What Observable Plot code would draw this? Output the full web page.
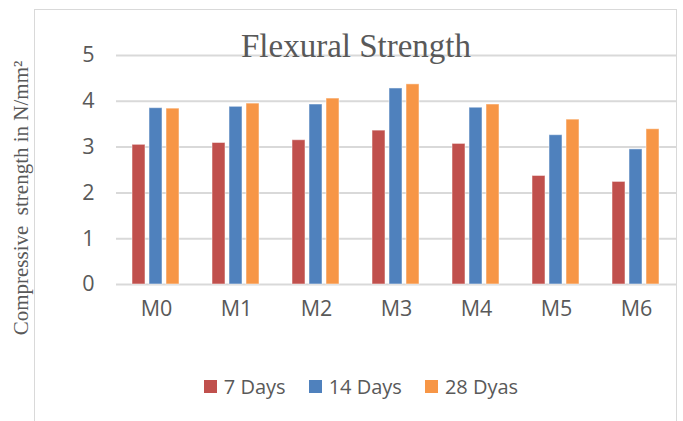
<!DOCTYPE html>
<html>
<head>
<meta charset="utf-8">
<script src="https://cdn.jsdelivr.net/npm/d3@7"></script>
<script src="https://cdn.jsdelivr.net/npm/@observablehq/plot@0.6"></script>
<style>
  html, body { margin: 0; padding: 0; background: #fff; }
  #wrap { position: relative; width: 683px; height: 421px; overflow: hidden; background: #fff; }
  #frame { position: absolute; left: 34px; top: 9px; width: 643px; height: 430px; border: 1px solid #d9d9d9; box-sizing: border-box; }
  #chart { position: absolute; left: 0; top: 0; }
  #chart svg text { font-size: 21.5px !important; fill: #595959; }
  #title { position: absolute; left: 34px; width: 644px; top: 30px; text-align: center;
           font-family: "Liberation Serif", serif; font-size: 33px; color: #595959; line-height: 1; }
  #ytitle { position: absolute; left: 21px; top: 198px; transform: translate(-50%, -50%) rotate(-90deg);
            font-family: "Liberation Serif", serif; font-size: 21px; color: #595959; white-space: pre; line-height: 1; }
  #legend { position: absolute; left: 34px; width: 654px; top: 370px; display: flex; justify-content: center; }
  .lg-swatch { margin-right: 23px !important; }
  .lg-swatch:last-child { margin-right: 0 !important; }
  .lg-swatch > svg { margin-right: 7px !important; }
</style>
</head>
<body>
<div id="wrap">
  <div id="frame"></div>
  <div id="chart"></div>
  <div id="title">Flexural Strength</div>
  <div id="ytitle">Compressive  strength in N/mm²</div>
  <div id="legend"></div>
</div>
<script>
const categories = ["M0", "M1", "M2", "M3", "M4", "M5", "M6"];
const seriesNames = ["7 Days", "14 Days", "28 Dyas"];
const days7  = [3.05, 3.09, 3.15, 3.36, 3.07, 2.37, 2.24];
const days14 = [3.85, 3.88, 3.93, 4.28, 3.86, 3.26, 2.95];
const days28 = [3.84, 3.95, 4.06, 4.37, 3.93, 3.60, 3.39];
const yTicks = [0, 1, 2, 3, 4, 5];
const colors = ["#C0504D", "#4F81BD", "#F79646"];

const seriesValues = [days7, days14, days28];
const rows = categories.flatMap((c, i) =>
  seriesNames.map((s, j) => ({category: c, series: s, value: seriesValues[j][i]})));

const chart = Plot.plot({
  width: 683,
  height: 340,
  marginTop: 55,
  marginBottom: 56,
  marginLeft: 115,
  marginRight: 6,
  style: {fontFamily: "'Open Sans', sans-serif", fontSize: "21px", color: "#595959", background: "transparent", overflow: "visible"},
  facet: {data: rows, x: "category", label: null},
  fx: {domain: categories, paddingInner: 0, paddingOuter: 0, label: null, tickSize: 0, tickPadding: 16},
  x: {domain: seriesNames, axis: null, paddingInner: 0.222, paddingOuter: 0.84},
  y: {domain: [0, 5], ticks: yTicks, tickFormat: d => String(d), tickSize: 0, tickPadding: 22, label: null},
  color: {domain: seriesNames, range: colors},
  marks: [
    Plot.ruleY(yTicks, {stroke: "#d9d9d9", strokeWidth: 2}),
    Plot.barY(rows, {x: "series", y: "value", fill: "series", stroke: "#ffffff", strokeOpacity: 0.5, strokeWidth: 1})
  ]
});
document.getElementById("chart").appendChild(chart);

const legend = Plot.legend({
  color: {domain: seriesNames, range: colors},
  legend: "swatches",
  swatchSize: 13,
  className: "lg",
  style: {fontFamily: "'Open Sans', sans-serif", fontSize: "20px", color: "#595959", marginLeft: "0"}
});
document.getElementById("legend").appendChild(legend);
</script>
</body>
</html>
